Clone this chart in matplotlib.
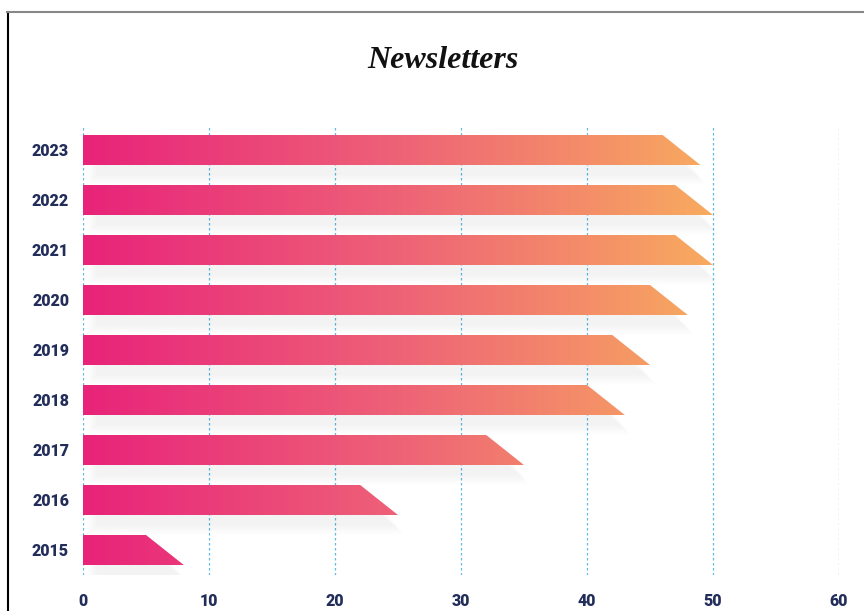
import numpy as np
import matplotlib.pyplot as plt
from matplotlib.patches import Polygon
from matplotlib.colors import LinearSegmentedColormap
from matplotlib.lines import Line2D

# data
years = ["2015", "2016", "2017", "2018", "2019", "2020", "2021", "2022", "2023"]
values = [8, 25, 35, 43, 45, 48, 50, 50, 49]
xticks = [0, 10, 20, 30, 40, 50, 60]

navy = "#222d5a"
grid_col = "#5fbde2"
cmap = LinearSegmentedColormap.from_list("nl", ["#e8237a", "#ee6277", "#f8ab5f"])

fig = plt.figure(figsize=(8.64, 6.11), dpi=100)
ax = fig.add_axes([83 / 864, 1 - 575 / 611, 756 / 864, 450 / 611])

h = 0.6      # bar thickness
slant = 3    # how far the top edge stops short
grad = np.linspace(0, 1, 256).reshape(1, -1)

for i, v in enumerate(values):
    y0, y1 = i - h / 2, i + h / 2
    # soft shadow, shifted down a bit
    for k in range(12):
        gx, gy = k * 0.07, k * 0.018
        sx, sy = 1.1, -0.2
        sh = Polygon([(sx - gx, y0 + sy - gy), (v - 0.3 + gx, y0 + sy - gy),
                      (v - slant - 0.3 + gx, y1 + sy + gy), (sx - gx, y1 + sy + gy)],
                     closed=True, facecolor="#000000", edgecolor="none",
                     alpha=0.004, zorder=1)
        ax.add_patch(sh)
    poly = Polygon([(0, y0), (v, y0), (v - slant, y1), (0, y1)], closed=True,
                   facecolor="none", edgecolor="none")
    ax.add_patch(poly)
    im = ax.imshow(grad, cmap=cmap, aspect="auto", extent=[0, 50, y0, y1],
                   interpolation="bicubic", zorder=3)
    im.set_clip_path(poly)

for t in xticks:
    ax.axvline(t, color=grid_col, lw=0.9, ls=(0, (2, 2)), zorder=0)

ax.set_xlim(0, 60)
ax.set_ylim(-0.5, len(years) - 0.5)
ax.set_xticks(xticks)
ax.set_yticks(range(len(years)))
ax.set_yticklabels(years)
for s in ax.spines.values():
    s.set_visible(False)
ax.tick_params(length=0)
ax.tick_params(axis="x", pad=13)
ax.tick_params(axis="y", pad=10)
for lab in ax.get_xticklabels() + ax.get_yticklabels():
    lab.set_fontfamily("Roboto")
    lab.set_fontweight("heavy")
    lab.set_fontsize(11.5)
    lab.set_color(navy)

fig.text(443 / 864, 1 - 60 / 611, "Newsletters", ha="center", va="center",
         fontsize=23, style="italic", fontweight="bold",
         fontfamily="Liberation Serif", color="#111111")

# frame lines
fig.add_artist(Line2D([7.5 / 864, 7.5 / 864], [0, 1 - 11.5 / 611], color="black", lw=1.5))
fig.add_artist(Line2D([7 / 864, 1], [1 - 11.5 / 611, 1 - 11.5 / 611], color="#888888", lw=1.5))

fig.savefig("out.png", dpi=100)
